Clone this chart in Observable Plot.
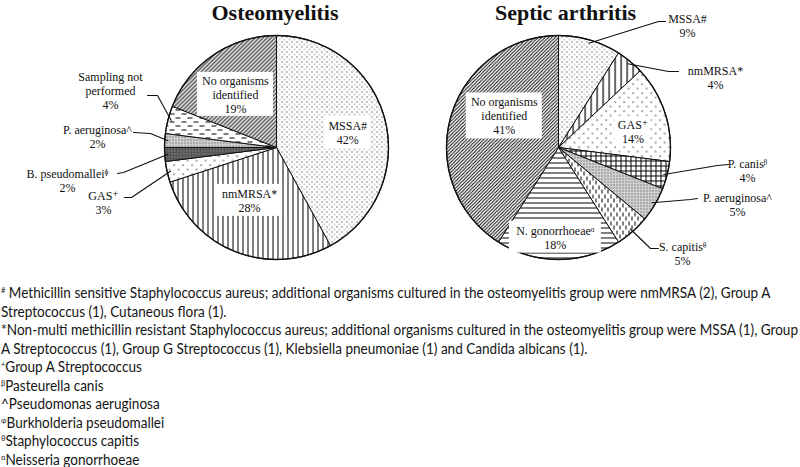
<!DOCTYPE html>
<html>
<head>
<meta charset="utf-8">
<script src="https://cdn.jsdelivr.net/npm/d3@7"></script>
<script src="https://cdn.jsdelivr.net/npm/@observablehq/plot@0.6"></script>
<style>
  html, body { margin: 0; padding: 0; background: #fff; }
  body { width: 800px; height: 467px; overflow: hidden; position: relative; }
  #chart svg { display: block; }
  #notes { position: absolute; left: 1px; top: 284px; font-family: "Liberation Sans Narrow", "Lato", sans-serif; font-size: 14.5px; line-height: 18.5px; color: #151515; white-space: nowrap; transform-origin: 0 0; }
  #notes sup { font-size: 8px; vertical-align: 5px; line-height: 0; }
</style>
</head>
<body>
<svg width="0" height="0" style="position:absolute">
  <defs>
    <pattern id="dots" width="5" height="5" patternUnits="userSpaceOnUse">
      <rect width="5" height="5" fill="#fff"/>
      <rect x="1" y="1" width="1" height="1" fill="#111"/>
      <rect x="3.5" y="3.5" width="1" height="1" fill="#555"/>
    </pattern>
    <pattern id="sparse" width="9" height="9" patternUnits="userSpaceOnUse">
      <rect width="9" height="9" fill="#fff"/>
      <rect x="2" y="2" width="1.2" height="1.2" fill="#111"/>
      <rect x="6.5" y="6.5" width="1.2" height="1.2" fill="#111"/>
    </pattern>
    <pattern id="vlines" width="5" height="5" patternUnits="userSpaceOnUse">
      <rect width="5" height="5" fill="#fff"/>
      <rect x="2" y="0" width="1" height="5" fill="#000"/>
    </pattern>
    <pattern id="vlines2" width="6" height="6" patternUnits="userSpaceOnUse">
      <rect width="6" height="6" fill="#fff"/>
      <rect x="2" y="0" width="1.2" height="6" fill="#000"/>
    </pattern>
    <pattern id="dark" width="3" height="3" patternUnits="userSpaceOnUse">
      <rect width="3" height="3" fill="#555"/>
      <rect x="0" y="0" width="1" height="1" fill="#aaa"/>
    </pattern>
    <pattern id="stipple" width="3" height="3" patternUnits="userSpaceOnUse">
      <rect width="3" height="3" fill="#cfcfcf"/>
      <rect x="1" y="1" width="1" height="1" fill="#444"/>
    </pattern>
    <pattern id="hdash" width="12" height="8" patternUnits="userSpaceOnUse">
      <rect width="12" height="8" fill="#fff"/>
      <rect x="1" y="1" width="5" height="1" fill="#000"/>
      <rect x="7" y="5" width="5" height="1" fill="#000"/>
    </pattern>
    <pattern id="diag" width="4" height="4" patternUnits="userSpaceOnUse">
      <rect width="4" height="4" fill="#fff"/>
      <path d="M-1,1 L1,-1 M0,4 L4,0 M3,5 L5,3" stroke="#000" stroke-width="1.05"/>
    </pattern>
    <pattern id="diag2" width="3.4" height="3.4" patternUnits="userSpaceOnUse">
      <rect width="3.4" height="3.4" fill="#fff"/>
      <path d="M-1,1 L1,-1 M0,3.4 L3.4,0 M2.4,4.4 L4.4,2.4" stroke="#000" stroke-width="0.95"/>
    </pattern>
    <pattern id="checker" width="5" height="5" patternUnits="userSpaceOnUse">
      <rect width="5" height="5" fill="#fff"/>
      <rect x="0" y="0" width="5" height="1" fill="#000"/>
      <rect x="0" y="0" width="1" height="5" fill="#000"/>
    </pattern>
    <pattern id="hlines" width="5" height="5" patternUnits="userSpaceOnUse">
      <rect width="5" height="5" fill="#fff"/>
      <rect x="0" y="2" width="5" height="1" fill="#000"/>
    </pattern>
    <pattern id="vdash" width="6" height="9" patternUnits="userSpaceOnUse">
      <rect width="6" height="9" fill="#fff"/>
      <rect x="1" y="0" width="1" height="4" fill="#000"/>
      <rect x="4" y="5" width="1" height="4" fill="#000"/>
    </pattern>
  </defs>
</svg>
<div id="chart"></div>
<div id="notes"></div>
<script>
// ---------- data ----------
const chartTitles = ["Osteomyelitis", "Septic arthritis"];

const osteoCategories = ["MSSA#", "nmMRSA*", "GAS\u207A", "B. pseudomallei\u1DB2", "P. aeruginosa^", "Sampling not\nperformed", "No organisms\nidentified"];
const osteoValues = [42, 28, 3, 2, 2, 4, 19];

const septicCategories = ["MSSA#", "nmMRSA*", "GAS\u207A", "P. canis\u1D5D", "P. aeruginosa^", "S. capitis\u1DBF", "N. gonorrhoeae\u1D45", "No organisms\nidentified"];
const septicValues = [9, 4, 14, 4, 5, 5, 18, 41];

const footnoteMarks = ["#", "", "", "", "+", "\u03B2", "", "\u0278", "\u03B8", "\u03B1"];
const footnoteTexts = [
  " Methicillin sensitive Staphylococcus aureus; additional organisms cultured in the osteomyelitis group were nmMRSA (2), Group A",
  "Streptococcus (1), Cutaneous flora (1).",
  "*Non-multi methicillin resistant Staphylococcus aureus; additional organisms cultured in the osteomyelitis group were MSSA (1), Group",
  "A Streptococcus (1), Group G Streptococcus (1), Klebsiella pneumoniae (1) and Candida albicans (1).",
  "Group A Streptococcus",
  "Pasteurella canis",
  "^Pseudomonas aeruginosa",
  "Burkholderia pseudomallei",
  "Staphylococcus capitis",
  "Neisseria gonorrhoeae"
];

// ---------- styles & layout ----------
const osteoPatterns = ["dots", "vlines", "sparse", "dark", "stipple", "hdash", "diag"];
const septicPatterns = ["dots", "vlines2", "sparse", "checker", "stipple", "vdash", "hlines", "diag2"];

// inside labels: angle tweak (deg) + radius fraction + white box size; outside: text/elbow/end offsets from pie centre
const osteoLayout = [
  {inside: true, da: 2.5, rf: 0.65, box: [46, 32]},
  {inside: true, da: 5.4, rf: 0.53, box: [66, 32]},
  {text: [-173, 55], elbow: [-145, 50], end: [-152, 50]},
  {text: [-209, 33], elbow: [-153, 25], end: [-159, 26]},
  {text: [-179, -11], elbow: [-126, -14], end: [-143, -15]},
  {text: [-166, -57], elbow: [-119, -52], end: [-129, -52]},
  {inside: true, da: -3.5, rf: 0.6, box: [76, 44]}
];
const septicLayout = [
  {text: [129, -122], elbow: [100, -126], end: [107, -126]},
  {text: [157, -70], elbow: [110, -76], end: [120, -76]},
  {inside: true, da: 6, rf: 0.68, box: [36, 30]},
  {text: [189, 23], elbow: [159, 18], end: [170, 17]},
  {text: [179, 57], elbow: [132, 52], end: [139, 51]},
  {text: [124, 106], elbow: [92, 101], end: [100, 101]},
  {inside: true, da: 2, rf: 0.8, box: [92, 32]},
  {inside: true, da: 14, rf: 0.56, box: [76, 46]}
];

const pies = [
  {key: "o", title: chartTitles[0], titleDx: -1.5, cx: 276, cy: 147, r: 112, cats: osteoCategories, vals: osteoValues, pats: osteoPatterns, layout: osteoLayout},
  {key: "s", title: chartTitles[1], titleDx: 7, cx: 558, cy: 147, r: 112, cats: septicCategories, vals: septicValues, pats: septicPatterns, layout: septicLayout}
];

// ---------- build geometry from data ----------
const wedges = [], boxes = [], inLabels = [], outLabels = [], leaders = [], frames = [], titles = [];
const deg = Math.PI / 180;
for (const p of pies) {
  frames.push({cx: p.cx, cy: p.cy});
  titles.push({x: p.cx + p.titleDx, y: 12, text: p.title});
  const arcs = d3.pie().sort(null).value(d => d)(p.vals);
  arcs.forEach((a, i) => {
    const id = p.key + i, fill = `url(#${p.pats[i]})`;
    wedges.push({id, x: p.cx, y: p.cy, fill});
    const n = Math.max(2, Math.ceil((a.endAngle - a.startAngle) / deg));
    for (let k = 0; k <= n; k++) {
      const t = a.startAngle + (a.endAngle - a.startAngle) * k / n;
      wedges.push({id, x: p.cx + p.r * Math.sin(t), y: p.cy - p.r * Math.cos(t), fill});
    }
    wedges.push({id, x: p.cx, y: p.cy, fill});
    const mid = (a.startAngle + a.endAngle) / 2;
    const L = p.layout[i];
    const text = `${p.cats[i]}\n${p.vals[i]}%`;
    if (L.inside) {
      const t = mid + L.da * deg, rr = L.rf * p.r;
      const x = p.cx + rr * Math.sin(t), y = p.cy - rr * Math.cos(t);
      inLabels.push({x, y, text});
      boxes.push({x1: x - L.box[0] / 2, x2: x + L.box[0] / 2, y1: y - L.box[1] / 2, y2: y + L.box[1] / 2});
    } else {
      outLabels.push({x: p.cx + L.text[0], y: p.cy + L.text[1], text});
      const rr = 0.97 * p.r;
      leaders.push({id, x: p.cx + rr * Math.sin(mid), y: p.cy - rr * Math.cos(mid)});
      leaders.push({id, x: p.cx + L.elbow[0], y: p.cy + L.elbow[1]});
      leaders.push({id, x: p.cx + L.end[0], y: p.cy + L.end[1]});
    }
  });
}

const serif = "Liberation Serif, 'Times New Roman', DejaVu Serif, serif";
const chart = Plot.plot({
  width: 800, height: 270, margin: 0,
  x: {domain: [0, 800], range: [0, 800], axis: null},
  y: {domain: [0, 270], range: [0, 270], axis: null},
  color: {type: "identity"},
  style: {background: "#fff", color: "#111", fontFamily: serif},
  marks: [
    Plot.line(wedges, {x: "x", y: "y", z: "id", fill: "fill", stroke: "#111", strokeWidth: 1, strokeLinejoin: "round"}),
    Plot.dot(frames, {x: "cx", y: "cy", r: 112, fill: "none", stroke: "#111", strokeWidth: 1.4}),
    Plot.rect(boxes, {x1: "x1", x2: "x2", y1: "y1", y2: "y2", fill: "#fff"}),
    Plot.text(inLabels, {x: "x", y: "y", text: "text", fontSize: 12, lineHeight: 1.17, fill: "#111"}),
    Plot.line(leaders, {x: "x", y: "y", z: "id", stroke: "#111", strokeWidth: 1.1}),
    Plot.text(outLabels, {x: "x", y: "y", text: "text", fontSize: 12, lineHeight: 1.17, fill: "#111"}),
    Plot.text(titles, {x: "x", y: "y", text: "text", fontSize: 22, fontWeight: "bold", fill: "#111"})
  ]
});
document.getElementById("chart").appendChild(chart);

// ---------- footnotes ----------
const notes = d3.select("#notes");
footnoteTexts.forEach((t, i) => {
  const line = notes.append("div");
  if (footnoteMarks[i]) line.append("sup").text(footnoteMarks[i]);
  line.append("span").text(t);
});
// fit the longest line to the page width
const node = document.getElementById("notes");
const w = d3.max(Array.from(node.children), c => { const r = document.createRange(); r.selectNodeContents(c); return r.getBoundingClientRect().width; });
if (w > 0) node.style.transform = `scaleX(${797 / w})`;
</script>
</body>
</html>
